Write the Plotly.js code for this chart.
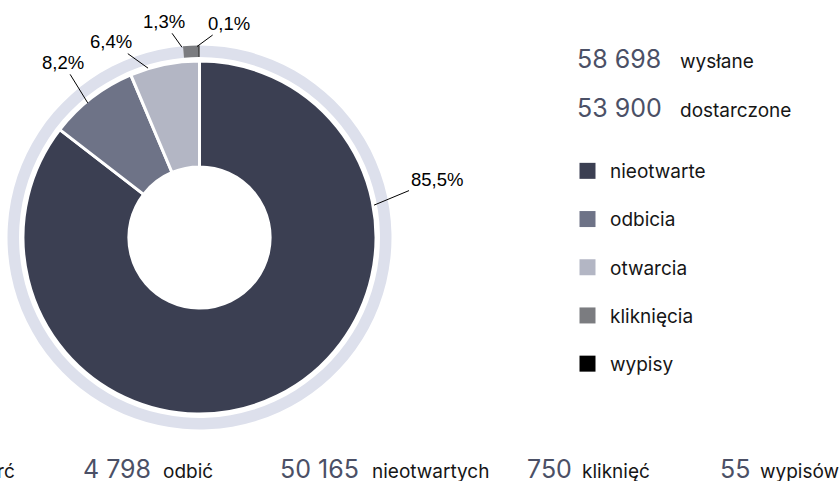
<!DOCTYPE html>
<html><head><meta charset="utf-8">
<script src="https://cdn.plot.ly/plotly-3.0.1.min.js"></script>
<style>html,body{margin:0;padding:0;background:#fff}#chart{width:840px;height:481px}</style>
</head><body><div id="chart"></div>
<script>
// ---- data ----
const categories = ['nieotwarte', 'odbicia', 'otwarcia', 'kliknięcia', 'wypisy'];
const seriesValues = [50165, 4798, 3735, 750, 55];
const summaryLabels = ['wysłane', 'dostarczone'];
const bottomOrder = [2, 1, 0, 3, 4];
const bottomLabels = ['otwarć', 'odbić', 'nieotwartych', 'kliknięć', 'wypisów'];
const restLabel = 'pozostałe';

// ---- derived ----
const sent = seriesValues[0] + seriesValues[1] + seriesValues[2];
const delivered = sent - seriesValues[1];
const innerValues = seriesValues.slice(0, 3);
const innerLabels = categories.slice(0, 3);
const ringValues = [sent - seriesValues[3] - seriesValues[4], seriesValues[3], seriesValues[4]];
const ringLabels = [restLabel, categories[3], categories[4]];

// ---- style ----
const W = 840, H = 481, CX = 199.5, CY = 237.5;
const colors = ['#3b3f52', '#6e7387', '#b3b6c4', '#7b7c80', '#000000'];
const ringColor = '#dde0ec';
const numColor = '#4b5066', txtColor = '#161616';
const FONT = 'Inter, "Noto Sans", sans-serif';
const LFONT = '"Liberation Sans", Arial, sans-serif';

const fmt = n => String(n).replace(/\B(?=(\d{3})+(?!\d))/g, ' ');
const pct = v => (v / sent * 100).toFixed(1).replace('.', ',') + '%';
const px = p => p / W, py = p => 1 - p / H;
const dom = r => ({x: [px(CX - r), px(CX + r)], y: [py(CY + r), py(CY - r)]});

const data = [
  {type: 'pie', values: ringValues, labels: ringLabels, sort: false, direction: 'clockwise', rotation: 0,
   hole: 0.94, marker: {colors: [ringColor, colors[3], colors[4]], line: {width: 0}},
   textinfo: 'none', hoverinfo: 'none', showlegend: false, domain: dom(192)},
  {type: 'pie', values: innerValues, labels: innerLabels, sort: false, direction: 'clockwise', rotation: 0,
   hole: 0.40, marker: {colors: colors.slice(0, 3), line: {width: 3, color: '#ffffff'}},
   textinfo: 'none', hoverinfo: 'none', showlegend: false, domain: dom(176.5)}
];
categories.forEach((c, i) => data.push({
  type: 'scatter', x: [null], y: [null], mode: 'markers', name: c, legendgroup: 'g' + i,
  marker: {symbol: 'square', size: 17, color: colors[i], line: {width: 0}}, hoverinfo: 'skip', showlegend: true
}));

// label leader placement (style): angle clockwise from top, radius px, text offset px
const labelPlace = [
  {a: 79.5, r: 177.5, ax: 62.5, ay: -26},
  {a: 320.3, r: 175, ax: -25, ay: -40.5},
  {a: 343.1, r: 177, ax: -37, ay: -26.5},
  {a: 354.75, r: 191, ax: -18.5, ay: -26},
  {a: 359.25, r: 191, ax: 32, ay: -23.5}
];
const annotations = [];
seriesValues.forEach((v, i) => {
  const p = labelPlace[i], rad = p.a * Math.PI / 180;
  annotations.push({
    xref: 'paper', yref: 'paper', x: px(CX + p.r * Math.sin(rad)), y: py(CY - p.r * Math.cos(rad)),
    text: pct(v), showarrow: true, arrowhead: 0, arrowwidth: 1, arrowcolor: '#000', standoff: 0,
    ax: p.ax, ay: p.ay, font: {family: LFONT, size: 18.5, color: '#000'}
  });
});
function textAt(text, x, base, size, color, anchor) {
  annotations.push({xref: 'paper', yref: 'paper', x: px(x), y: py(base - 0.365 * size), xanchor: anchor || 'left',
    yanchor: 'middle', showarrow: false, text: text, font: {family: FONT, size: size, color: color}});
}
// summary (top right)
[sent, delivered].forEach((v, i) => {
  const base = [68, 117][i];
  textAt(fmt(v), 575, base, 25, numColor);
  textAt(summaryLabels[i], 678, base, 19, txtColor);
});
// bottom strip
const numX = [-60, 81, 278, 525, 718];
const labX = [17, 161, 370, 580, 758];
bottomOrder.forEach((k, j) => {
  if (j === 0) {
    textAt(bottomLabels[j], labX[j], 478, 19, txtColor, 'right');
    textAt(fmt(seriesValues[k]), numX[j], 478, 25, numColor, 'right');
  } else {
    textAt(fmt(seriesValues[k]), numX[j], 478, 25, numColor);
    textAt(bottomLabels[j], labX[j], 478, 19, txtColor);
  }
});

const layout = {
  width: W, height: H, margin: {l: 0, r: 0, t: 0, b: 0},
  paper_bgcolor: '#ffffff', plot_bgcolor: '#ffffff',
  xaxis: {visible: false}, yaxis: {visible: false},
  showlegend: true,
  legend: {x: px(565), y: py(152), xanchor: 'left', yanchor: 'top', tracegroupgap: 20.5, itemwidth: 35,
    font: {family: FONT, size: 19, color: txtColor}, bgcolor: 'rgba(0,0,0,0)', itemclick: false},
  annotations: annotations
};
Plotly.newPlot('chart', data, layout, {displayModeBar: false, staticPlot: true});
</script></body></html>
